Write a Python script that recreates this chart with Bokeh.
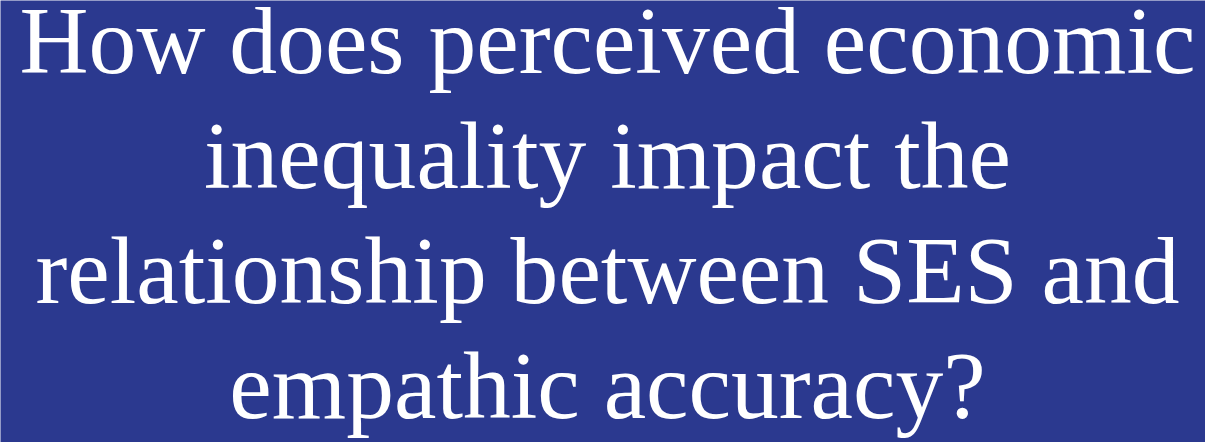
from bokeh.plotting import figure
from bokeh.models import ColumnDataSource, Range1d
from bokeh.core.properties import value
from bokeh.embed import file_html
from bokeh.resources import INLINE

# Content of the slide
lines = [
    "How does perceived economic",
    "inequality impact the",
    "relationship between SES and",
    "empathic accuracy?",
]
line_index = list(range(len(lines)))

BG = "#2B398F"
W, H = 1205, 442

p = figure(width=W, height=H, output_backend="svg", toolbar_location=None,
           title=None, x_axis_type=None, y_axis_type=None,
           x_range=Range1d(0, W), y_range=Range1d(0, H),
           min_border=0, min_border_left=0, min_border_right=0,
           min_border_top=0, min_border_bottom=0)
p.grid.visible = False
p.outline_line_color = None
p.background_fill_color = BG
p.border_fill_color = BG

first_baseline = 402
spacing = 115
src = ColumnDataSource(dict(
    x=[607] * len(lines),
    y=[first_baseline - spacing * i for i in line_index],
    text=lines,
))
p.text(x="x", y="y", text="text", source=src,
       text_font=value("Liberation Serif"), text_font_size="95.6px",
       text_align="center", text_baseline="alphabetic",
       text_color="white")

open("out.html", "w").write(file_html(p, INLINE))
